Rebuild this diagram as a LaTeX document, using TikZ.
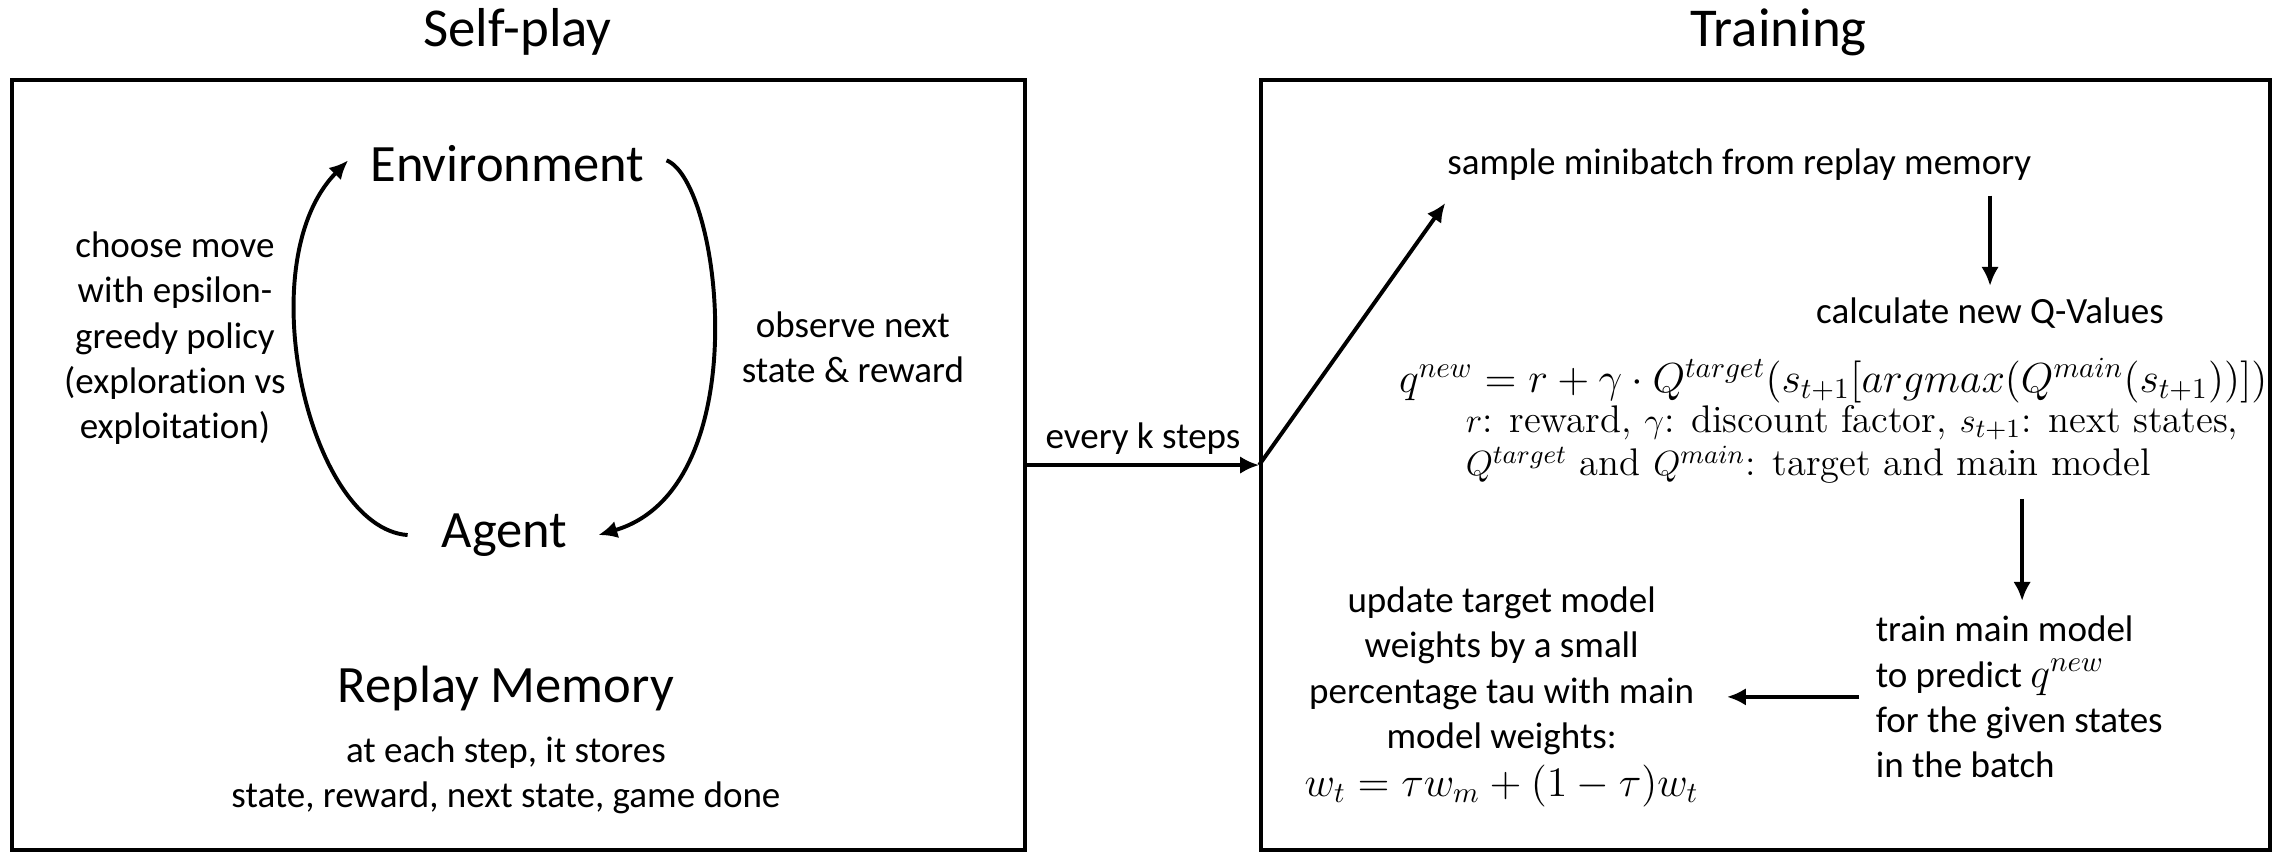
\documentclass[tikz,border=0pt]{standalone}
\usepackage[no-math]{fontspec}
\setsansfont{Carlito}[Ligatures=NoCommon]
\usetikzlibrary{arrows.meta}
\begin{document}
\begin{tikzpicture}[x=0.5pt,y=-0.5pt,
  body/.style={font=\sffamily\fontsize{12.7}{15.5}\selectfont, align=center, inner sep=0pt},
  big/.style={font=\sffamily\fontsize{18}{22}\selectfont, inner sep=0pt},
  ttl/.style={font=\sffamily\fontsize{18.8}{22}\selectfont, inner sep=0pt},
  frame/.style={draw, line width=1.35pt, inner sep=0pt},
  arr/.style={-{Latex[length=6.5pt,width=6pt]}, line width=1.35pt}]
\useasboundingbox (0,0) rectangle (1568,588);
% titles
\node[ttl] (tsp) at (355,22) {Self-play};
\node[ttl] (ttr) at (1220,22) {Training};
% frames
\node[frame, minimum width=347.5pt, minimum height=264pt] (leftbox) at (355.5,319) {};
\node[frame, minimum width=346pt, minimum height=264pt] (rightbox) at (1211,319) {};
% self-play
\node[big] (env) at (348,112) {Environment};
\node[big] (agent) at (346,367) {Agent};
\node[body] (choose) at (120,232) {choose move\\with epsilon-\\greedy policy\\(exploration vs\\exploitation)};
\node[body] (observe) at (585,238) {observe next\\state \& reward};
\node[big] (replay) at (347,472) {Replay Memory};
\node[body] (stores) at (347,532) {at each step, it stores\\state, reward, next state, game done};
\draw[arr] ([xshift=-11.5pt]agent.west) .. controls (212,362) and (170,180) .. ([xshift=-7.5pt,yshift=1pt]env.west);
\draw[arr] ([xshift=7.5pt,yshift=1pt]env.east) .. controls (495,125) and (520,335) .. ([xshift=10.5pt]agent.east);
% link
\draw[arr] (leftbox.east) -- (rightbox.west) node[midway, above=3pt, body] (every) {every k steps};
% training
\node[body] (sample) at (1193,113) {sample minibatch from replay memory};
\draw[arr] (rightbox.west) -- ([xshift=-0.5pt,yshift=-7.5pt]sample.south west);
\node[body] (calc) at (1365,215) {calculate new Q-Values};
\draw[arr] ([yshift=-5pt]sample.south -| calc.north) -- ([yshift=4pt]calc.north);
\node[inner sep=0pt, font=\fontsize{14}{16}\selectfont] (form) at (1257.5,261) {$q^{new} = r + \gamma \cdot Q^{target}(s_{t+1}[argmax(Q^{main}(s_{t+1}))])$};
\node[inner sep=0pt, font=\fontsize{13.2}{14.8}\selectfont, anchor=west, align=left] (expl) at (1005,305) {$r$: reward, $\gamma$: discount factor, $s_{t+1}$: next states,\\$Q^{target}$ and $Q^{main}$: target and main model};
\node[body, align=left] (train) at (1385,478) {train main model\\to predict {\fontsize{14.5}{15.5}\selectfont$q^{new}$}\\for the given states\\in the batch};
\draw[arr] ([yshift=-5pt]expl.south -| 1387,0) -- ([yshift=5pt]train.north -| 1387,0);
\node[body] (upd) at (1030,478) {update target model\\weights by a small\\percentage tau with main\\model weights:\\[1pt]{\fontsize{14}{16}\selectfont$w_t = \tau w_m + (1-\tau)w_t$}};
\draw[arr] ([xshift=-5.5pt]train.west) -- ([xshift=9.5pt]upd.east |- train.west);
\end{tikzpicture}
\end{document}
